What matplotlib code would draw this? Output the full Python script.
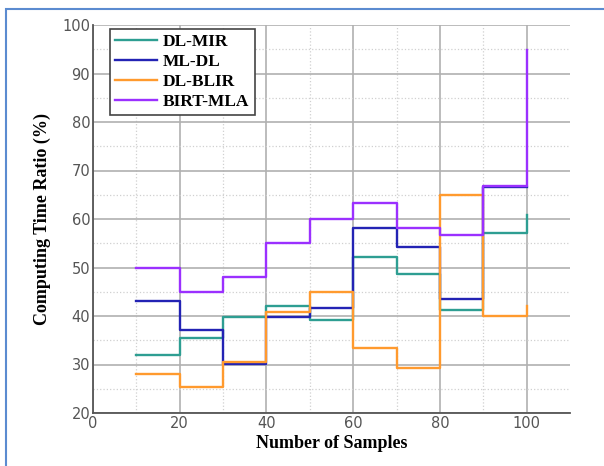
import matplotlib.pyplot as plt
from matplotlib.patches import Rectangle

# datos (escalones de 10 en 10)
samples = [10, 20, 30, 40, 50, 60, 70, 80, 90, 100]
dl_mir = [32.0, 35.5, 39.7, 42.1, 39.2, 52.1, 48.7, 41.3, 57.2, 60.9]
ml_dl = [43.0, 37.2, 30.2, 39.7, 41.7, 58.2, 54.2, 43.6, 66.6, 66.6]
dl_blir = [28.0, 25.4, 30.6, 40.9, 45.0, 33.3, 29.2, 64.9, 40.0, 42.1]
birt_mla = [50.0, 45.0, 48.0, 55.0, 60.0, 63.4, 58.2, 56.6, 66.9, 94.8]

names = ['DL-MIR', 'ML-DL', 'DL-BLIR', 'BIRT-MLA']
colors = ['#2E9E92', '#2323B4', '#FF9A2E', '#9B30FF']

fig = plt.figure(figsize=(6.04, 4.66), dpi=100)
ax = fig.add_axes([93 / 604, 53 / 466, 477 / 604, 388 / 466])

# marco azul de la captura
fig.patches.append(Rectangle((6 / 604, -0.1), 1.2, (466 - 9) / 466 + 0.1,
                             transform=fig.transFigure, fill=False,
                             edgecolor='#5B8BD0', linewidth=1.5))

for vals, name, c in zip([dl_mir, ml_dl, dl_blir, birt_mla], names, colors):
    ax.plot(samples, vals, drawstyle='steps-post', color=c, lw=1.7, label=name)

ax.set_xlim(0, 110)
ax.set_ylim(20, 100)
ax.set_xticks([0, 20, 40, 60, 80, 100])
ax.set_yticks(range(20, 101, 10))
ax.set_xticks(range(10, 110, 20), minor=True)
ax.set_yticks(range(25, 100, 10), minor=True)
ax.tick_params(which='both', length=0, labelsize=10.5, labelcolor='#555555')
ax.tick_params(axis='x', pad=2)
ax.tick_params(axis='y', pad=2)

ax.grid(which='major', color='#b0b0b0', lw=1.2)
ax.grid(which='minor', color='#d0d0d0', lw=0.9, ls=':')
ax.set_axisbelow(True)

for s in ['top', 'right']:
    ax.spines[s].set_visible(False)
for s in ['left', 'bottom']:
    ax.spines[s].set_color('#555555')
    ax.spines[s].set_linewidth(1.3)

ax.set_xlabel('Number of Samples', family='Liberation Serif', fontweight='bold',
              fontsize=13, labelpad=3)
ax.set_ylabel('Computing Time Ratio (%)', family='Liberation Serif', fontweight='bold',
              fontsize=13, labelpad=8)

leg = ax.legend(loc='upper left', bbox_to_anchor=(0.036, 0.99), borderaxespad=0,
                fancybox=False, edgecolor='#444444', framealpha=1, handlelength=2.4,
                borderpad=0.3, labelspacing=0.22, handletextpad=0.35,
                prop={'family': 'Liberation Serif', 'weight': 'bold', 'size': 12.5})
leg.get_frame().set_linewidth(1.2)

plt.savefig('out.png', dpi=100)
